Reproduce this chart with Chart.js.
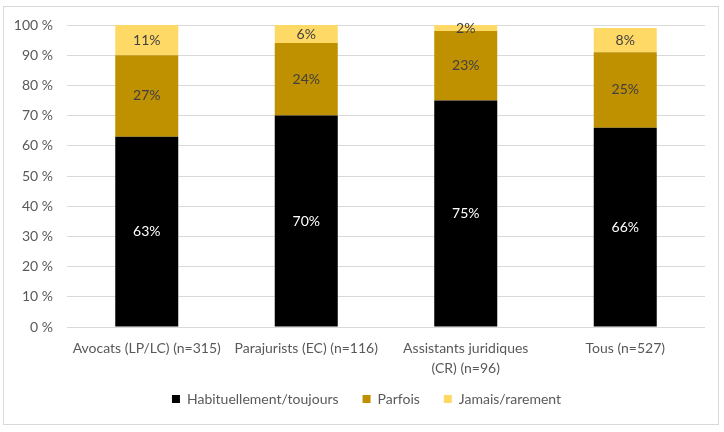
<!DOCTYPE html>
<html>
<head>
<meta charset="utf-8">
<script src="https://cdn.jsdelivr.net/npm/chart.js@4/dist/chart.umd.min.js"></script>
<style>
html,body{margin:0;padding:0;background:#fff;}
#frame{position:absolute;left:3px;top:6px;width:716px;height:419px;border:1px solid #D9D9D9;box-sizing:border-box;}
#wrap{position:absolute;left:0;top:0;width:724px;height:432px;}
</style>
</head>
<body>
<div id="frame"></div>
<div id="wrap"><canvas id="c" width="724" height="432"></canvas></div>
<script>
const categories = ["Avocats (LP/LC) (n=315)", "Parajurists (EC) (n=116)", ["Assistants juridiques", "(CR) (n=96)"], "Tous (n=527)"];
const seriesNames = ["Habituellement/toujours", "Parfois", "Jamais/rarement"];
const habituellement = [63, 70, 75, 66];
const parfois = [27, 24, 23, 25];
const jamais = [11, 6, 2, 8];
const yTicks = [0, 10, 20, 30, 40, 50, 60, 70, 80, 90, 100];

const FONT = "Lato, 'Open Sans', sans-serif";

const labelPlugin = {
  id: 'segLabels',
  afterLayout(chart) {
    // let the wrapped x labels extend below the axis box without being clipped
    chart.scales.x.bottom += 30;
    // center the legend on the whole canvas
    if (chart.legend) { chart.legend.left += 14; chart.legend.right += 14; }
  },
  afterDatasetsDraw(chart) {
    const ctx = chart.ctx;
    const area = chart.chartArea;
    ctx.save();
    ctx.font = "14px " + FONT;
    ctx.textAlign = 'center';
    ctx.textBaseline = 'middle';
    chart.data.datasets.forEach((ds, di) => {
      const meta = chart.getDatasetMeta(di);
      meta.data.forEach((bar, i) => {
        const p = bar.getProps(['x', 'y', 'base'], true);
        const top = Math.max(p.y, area.top);
        const cy = (top + p.base) / 2;
        ctx.fillStyle = di === 0 ? '#FFFFFF' : '#404040';
        ctx.fillText(Math.round(ds.data[i]) + '%', p.x, cy);
      });
    });
    ctx.restore();
  }
};

new Chart(document.getElementById('c'), {
  type: 'bar',
  data: {
    labels: categories,
    datasets: [
      { label: seriesNames[0], data: habituellement, backgroundColor: '#000000' },
      { label: seriesNames[1], data: parfois, backgroundColor: '#BF9000' },
      { label: seriesNames[2], data: jamais, backgroundColor: '#FFD966' }
    ]
  },
  options: {
    responsive: false,
    animation: false,
    devicePixelRatio: 1,
    layout: { padding: { left: 0, right: 19, top: 25, bottom: 16 } },
    datasets: { bar: { categoryPercentage: 1, barPercentage: 0.395 } },
    scales: {
      x: {
        stacked: true,
        grid: { display: false },
        border: { display: false },
        ticks: { color: '#595959', font: { family: FONT, size: 14, lineHeight: 1.4 }, maxRotation: 0, autoSkip: false, padding: 4 },
        afterFit(s) { s.height = 41; }
      },
      y: {
        stacked: true,
        min: 0, max: 100,
        afterBuildTicks(s) { s.ticks = yTicks.map(v => ({ value: v })); },
        grid: { color: '#D9D9D9', drawTicks: false, lineWidth: 1 },
        border: { display: false },
        ticks: { color: '#595959', font: { family: FONT, size: 14 }, padding: 14, callback: v => v + ' %' },
        afterFit(s) { s.width = 67; }
      }
    },
    plugins: {
      legend: {
        position: 'bottom',
        labels: { color: '#595959', font: { family: FONT, size: 14 }, boxWidth: 8, boxHeight: 8, padding: 24 }
      },
      tooltip: { enabled: false }
    }
  },
  plugins: [labelPlugin]
});
</script>
</body>
</html>
